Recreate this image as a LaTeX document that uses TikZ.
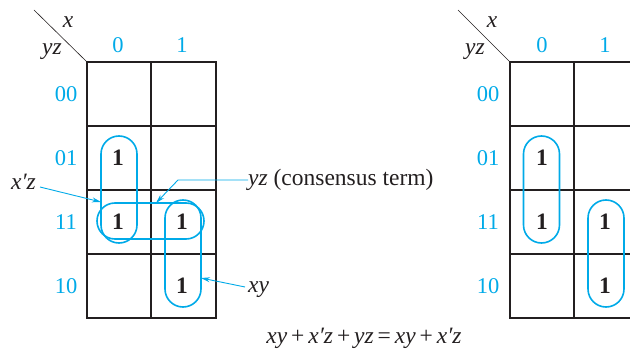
\documentclass[tikz,border=0pt]{standalone}
\usepackage{fontspec}
\setmainfont{Liberation Serif}
\usetikzlibrary{arrows.meta}
\definecolor{kcyan}{RGB}{0,170,232}
\definecolor{kgrid}{RGB}{35,31,32}
\begin{document}
\begin{tikzpicture}[x=1pt,y=-1pt,
  gridouter/.style={draw=kgrid,line width=1.8pt},
  gridinner/.style={draw=kgrid,line width=1.2pt},
  diag/.style={draw=kgrid,line width=0.6pt},
  one/.style={font=\fontsize{23.5}{26}\selectfont\bfseries,text=kgrid,inner sep=0pt},
  idx/.style={font=\fontsize{22.5}{26}\selectfont,text=kcyan,inner sep=0pt},
  var/.style={font=\fontsize{23.5}{26}\selectfont\itshape,text=kgrid,inner sep=0pt},
  lbl/.style={font=\fontsize{23.5}{26}\selectfont,text=kgrid,inner sep=0pt},
  vloop/.style={draw=kcyan,line width=1.6pt,minimum width=36pt,minimum height=107pt,rounded corners=18pt,inner sep=0pt},
  hloop/.style={draw=kcyan,line width=1.6pt,minimum width=107pt,minimum height=36pt,rounded corners=18pt,inner sep=0pt},
  pointer/.style={draw=kcyan,line width=0.9pt,-{Stealth[length=9pt,width=5pt]}}]
\useasboundingbox (0,0) rectangle (630,350);
\clip (0,0) rectangle (630,350);
% ---------- left map ----------
\draw[diag] (34,10) -- (87,62);
\node[var] (lx) at (68,22) {x};
\node[var] (lyz) at (52,52) {yz};
\node[idx] (lc0) at (118,45) {0};
\node[idx] (lc1) at (182,45) {1};
\node[idx] (lr00) at (66,94) {00};
\node[idx] (lr01) at (66,158) {01};
\node[idx] (lr11) at (66,222) {11};
\node[idx] (lr10) at (66,286) {10};
\draw[gridinner] (87,126) -- (216,126) (87,190) -- (216,190) (87,254) -- (216,254) (151,62) -- (151,318);
\draw[gridouter] (87,62) rectangle (216,318);
\node[one] (a1) at (118,158) {1};
\node[one] (a2) at (118,222) {1};
\node[one] (a3) at (182,222) {1};
\node[one] (a4) at (182,286) {1};
\node[vloop] (lxz) at (119,189.5) {};
\node[hloop] (lyzl) at (150.5,221) {};
\node[vloop] (lxy) at (183,253.5) {};
% labels and pointers
\node[lbl,anchor=east] (txz) at (36,182) {\itshape x′z};
\node[lbl,anchor=west] (tyz) at (248,180) {\textit{yz} (consensus term)};
\node[lbl,anchor=west] (txy) at (248,290) {\itshape xy};
\coordinate (sxz) at (40,187);
\coordinate (pxz) at (101,202);
\coordinate (kyz) at (178,180);
\coordinate (pyz) at (156,203);
\coordinate (sxy) at (245,287);
\coordinate (pxy) at (201,278);
\draw[pointer] (sxz) -- (pxz);
\draw[pointer] (tyz.west) -- (kyz) -- (pyz);
\draw[pointer] (sxy) -- (pxy);
% equation
\node[lbl] (eq) at (364,338) {\textit{xy}\,+\,\textit{x′z}\,+\,\textit{yz}\,=\,\textit{xy}\,+\,\textit{x′z}};
% ---------- right map ----------
\draw[diag] (458,10) -- (510,62);
\node[var] (rx) at (492,22) {x};
\node[var] (ryz) at (475,52) {yz};
\node[idx] (rc0) at (542,45) {0};
\node[idx] (rc1) at (605,45) {1};
\node[idx] (rr00) at (488,94) {00};
\node[idx] (rr01) at (488,158) {01};
\node[idx] (rr11) at (488,222) {11};
\node[idx] (rr10) at (488,286) {10};
\draw[gridinner] (510,126) -- (640,126) (510,190) -- (640,190) (510,254) -- (640,254) (574,62) -- (574,318);
\draw[gridouter] (510,62) rectangle (640,318);
\node[one] (b1) at (542,158) {1};
\node[one] (b2) at (542,222) {1};
\node[one] (b3) at (605,222) {1};
\node[one] (b4) at (605,286) {1};
\node[vloop] (rxz) at (541.5,189.5) {};
\node[vloop] (rxy) at (606,253.5) {};
\end{tikzpicture}
\end{document}
